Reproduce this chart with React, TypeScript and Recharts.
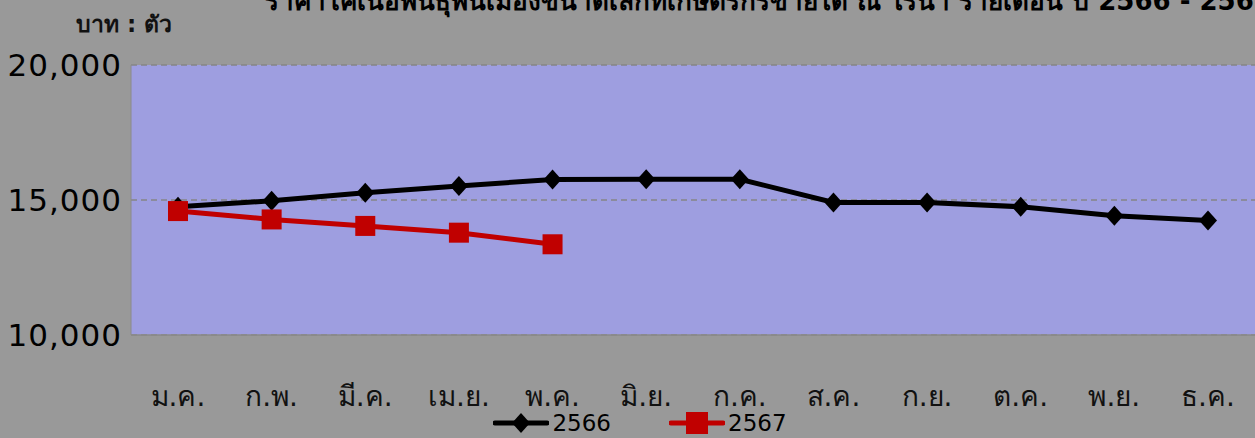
import React from 'react';
import { CartesianGrid, Legend, Line, LineChart, XAxis, YAxis } from 'recharts';

const months = ['ม.ค.', 'ก.พ.', 'มี.ค.', 'เม.ย.', 'พ.ค.', 'มิ.ย.', 'ก.ค.', 'ส.ค.', 'ก.ย.', 'ต.ค.', 'พ.ย.', 'ธ.ค.'];
const price2566 = [14750, 14970, 15270, 15520, 15760, 15770, 15770, 14910, 14910, 14750, 14420, 14240];
const price2567: (number | null)[] = [14590, 14280, 14040, 13790, 13360, null, null, null, null, null, null, null];
const yTicks = [10000, 15000, 20000];

const data = months.map((m, i) => ({ month: m, y2566: price2566[i], y2567: price2567[i] }));

const TITLE = 'ราคาโคเนื้อพันธุ์พื้นเมืองขนาดเล็กที่เกษตรกรขายได้ ณ ไร่นา รายเดือน ปี 2566 - 2567';
const FONT = "Tahoma, 'DejaVu Sans', 'Noto Sans', sans-serif";

const fmt = (v: number) => v.toLocaleString('en-US');

function Diamond(props: any) {
  const { cx, cy } = props;
  if (cx == null || cy == null) return null;
  return <polygon points={`${cx},${cy - 10} ${cx + 9},${cy} ${cx},${cy + 10} ${cx - 9},${cy}`} fill="#000" />;
}

function Square(props: any) {
  const { cx, cy } = props;
  if (cx == null || cy == null) return null;
  return <rect x={cx - 10} y={cy - 10} width={20} height={20} fill="#c00000" />;
}

function LegendContent() {
  const item = (color: string, label: string, marker: 'diamond' | 'square', gap: number) => (
    <div style={{ display: 'flex', alignItems: 'center', marginRight: gap }}>
      <svg width={56} height={24}>
        <line x1={2} y1={12} x2={54} y2={12} stroke={color} strokeWidth={5} strokeLinecap="round" />
        {marker === 'diamond'
          ? <polygon points="28,2 37,12 28,22 19,12" fill={color} />
          : <rect x={17} y={1} width={22} height={22} fill={color} />}
      </svg>
      <span style={{ fontSize: 23, color: '#000', marginLeft: 3 }}>{label}</span>
    </div>
  );
  return (
    <div style={{ display: 'flex', justifyContent: 'center', height: 30, fontFamily: FONT, paddingLeft: 25 }}>
      {item('#000', '2566', 'diamond', 58)}
      {item('#c00000', '2567', 'square', 0)}
    </div>
  );
}

export default function App() {
  return (
    <div style={{ position: 'absolute', left: 0, top: 0, width: 1255, height: 438, background: '#999999', fontFamily: FONT, overflow: 'hidden' }}>
      <LineChart width={1255} height={438} data={data} margin={{ top: 65, right: 0, left: 0, bottom: 0 }}>
        <text x={265} y={10} fontSize={26} fontWeight="bold" fill="#000" fontFamily={FONT}>{TITLE}</text>
        <text x={76} y={32} fontSize={23} fontWeight="bold" fill="#111" fontFamily={FONT}>บาท : ตัว</text>
        <CartesianGrid fill="#9e9ee0" fillOpacity={1} vertical={false} stroke="#858585" strokeWidth={1.5} strokeDasharray="6 4" />
        <XAxis
          dataKey="month"
          height={73}
          padding={{ left: 47, right: 47 }}
          tickLine={false}
          tickSize={0}
          tickMargin={51}
          axisLine={{ stroke: '#8a8a8a', strokeWidth: 1.5 }}
          tick={{ fontSize: 28, fill: '#111', fontFamily: FONT }}
          interval={0}
        />
        <YAxis
          width={131}
          domain={[10000, 20000]}
          ticks={yTicks}
          tickFormatter={fmt}
          tickLine={false}
          tickSize={0}
          tickMargin={9}
          axisLine={{ stroke: '#8a8a8a', strokeWidth: 1 }}
          tick={{ fontSize: 31, fill: '#000', fontFamily: FONT, letterSpacing: 1 }}
        />
        <Legend verticalAlign="bottom" content={<LegendContent />} wrapperStyle={{ left: 0, width: 1255 }} />
        <Line dataKey="y2566" name="2566" stroke="#000" strokeWidth={5} dot={<Diamond />} activeDot={false} isAnimationActive={false} />
        <Line dataKey="y2567" name="2567" stroke="#c00000" strokeWidth={5} dot={<Square />} activeDot={false} isAnimationActive={false} connectNulls={false} />
      </LineChart>
    </div>
  );
}
